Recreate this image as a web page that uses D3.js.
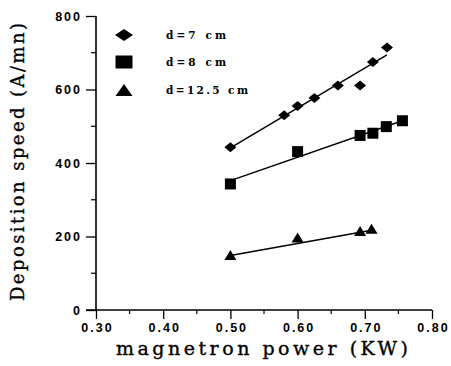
<!DOCTYPE html>
<html>
<head>
<meta charset="utf-8">
<script src="https://cdn.jsdelivr.net/npm/d3@7"></script>
<style>
  body { margin: 0; background: #fff; }
  svg { display: block; }
</style>
</head>
<body>
<svg id="chart" width="451" height="366"></svg>
<script>
// series
const seriesNames = ["d=7 cm", "d=8 cm", "d=12.5 cm"];
const d7Power = [0.50, 0.58, 0.60, 0.625, 0.66, 0.693, 0.712, 0.733];
const d7Speed = [443, 530, 555, 577, 611, 611, 675, 714];
const d8Power = [0.50, 0.60, 0.693, 0.712, 0.732, 0.756];
const d8Speed = [343, 431, 475, 481, 499, 515];
const d12Power = [0.50, 0.60, 0.693, 0.71];
const d12Speed = [150, 197, 215, 221];
// fitted lines: [start, end]
const d7Fit = [[0.50, 441], [0.733, 694]];
const d8Fit = [[0.50, 352], [0.756, 515]];
const d12Fit = [[0.50, 148], [0.71, 217]];

const xTicks = [0.30, 0.40, 0.50, 0.60, 0.70, 0.80];
const xMinor = [0.35, 0.45, 0.55, 0.65, 0.75];
const yTicks = [0, 200, 400, 600, 800];
const yMinor = [100, 300, 500, 700];

const svg = d3.select("#chart");

let x = d3.scaleLinear().domain([0.30, 0.80]).range([96, 432]);
let y = d3.scaleLinear().domain([0, 800]).range([310, 16]);

// axes
let xAxis = d3.axisBottom(x).tickValues(xTicks).tickSize(9).tickPadding(4)
    .tickFormat(d3.format(".2f"));
let gx = svg.append("g").attr("transform", "translate(0,310)").call(xAxis);
gx.select(".domain").remove();
gx.append("line").attr("x1", 86).attr("x2", 432).attr("stroke", "black").attr("stroke-width", 1.6);
gx.selectAll(".minor").data(xMinor).join("line")
    .attr("x1", d => x(d)).attr("x2", d => x(d))
    .attr("y1", 0).attr("y2", 4).attr("stroke", "black").attr("stroke-width", 1.2);

let yAxis = d3.axisLeft(y).tickValues(yTicks).tickSize(10).tickPadding(4);
let gy = svg.append("g").attr("transform", "translate(96,0)").call(yAxis);
gy.select(".domain").remove();
gy.append("line").attr("y1", 16).attr("y2", 310).attr("stroke", "black").attr("stroke-width", 1.6);
gy.selectAll(".minor").data(yMinor).join("line")
    .attr("y1", d => y(d)).attr("y2", d => y(d))
    .attr("x1", 0).attr("x2", -5).attr("stroke", "black").attr("stroke-width", 1.2);

svg.selectAll(".tick line").attr("stroke-width", 1.3);
svg.selectAll(".tick text")
    .attr("font-family", "Liberation Sans, Arial, sans-serif")
    .attr("font-weight", "bold")
    .attr("font-size", 12.5)
    .attr("letter-spacing", 2)
    .attr("fill", "black");
gx.selectAll(".tick text").attr("dx", 1);

// titles
svg.append("text")
    .attr("x", 262).attr("y", 355)
    .attr("text-anchor", "middle")
    .attr("font-family", "DejaVu Serif, serif")
    .attr("font-size", 19)
    .attr("stroke", "black").attr("stroke-width", 0.35)
    .attr("textLength", 292).attr("lengthAdjust", "spacing")
    .text("magnetron power (KW)");

svg.append("text")
    .attr("transform", "translate(24,162) rotate(-90)")
    .attr("text-anchor", "middle")
    .attr("font-family", "DejaVu Serif, serif")
    .attr("font-size", 18)
    .attr("stroke", "black").attr("stroke-width", 0.35)
    .attr("textLength", 278).attr("lengthAdjust", "spacing")
    .text("Deposition speed (A/mn)");

// marker shapes, drawn to a given half width / half height
function shape(kind, w, h) {
    let p = d3.path();
    if (kind == "diamond") {
        p.moveTo(0, -h); p.lineTo(w, 0); p.lineTo(0, h); p.lineTo(-w, 0);
    } else if (kind == "square") {
        p.rect(-w, -h, 2 * w, 2 * h);
    } else {
        p.moveTo(0, -h); p.lineTo(w, h); p.lineTo(-w, h);
    }
    p.closePath();
    return p.toString();
}
const kinds = ["diamond", "square", "triangle"];
const markHalf = [[6, 5], [5.5, 5.5], [6, 5]];
const legendHalf = [[9, 6], [8.5, 6.5], [8.5, 6]];

function zip(a, b) { return a.map((v, i) => [v, b[i]]); }
const allSeries = [
    { pts: zip(d7Power, d7Speed), fit: d7Fit },
    { pts: zip(d8Power, d8Speed), fit: d8Fit },
    { pts: zip(d12Power, d12Speed), fit: d12Fit }
];

let line = d3.line().x(d => x(d[0])).y(d => y(d[1]));

allSeries.forEach((s, i) => {
    svg.append("path")
        .datum(s.fit)
        .attr("d", line)
        .attr("fill", "none")
        .attr("stroke", "black")
        .attr("stroke-width", 1.5);

    svg.append("g").selectAll("path")
        .data(s.pts)
        .join("path")
        .attr("transform", d => `translate(${x(d[0])},${y(d[1])})`)
        .attr("d", shape(kinds[i], markHalf[i][0], markHalf[i][1]))
        .attr("fill", "black");
});

// legend
const legendY = [35, 62, 90];
const legendWidth = [60, 60, 82];
seriesNames.forEach((name, i) => {
    svg.append("path")
        .attr("transform", `translate(124,${legendY[i]})`)
        .attr("d", shape(kinds[i], legendHalf[i][0], legendHalf[i][1]))
        .attr("fill", "black");
    svg.append("text")
        .attr("x", 166).attr("y", legendY[i] + 4)
        .attr("font-family", "DejaVu Serif, serif")
        .attr("font-weight", "bold")
        .attr("font-size", 10.5)
        .attr("textLength", legendWidth[i]).attr("lengthAdjust", "spacing")
        .text(name);
});
</script>
</body>
</html>
